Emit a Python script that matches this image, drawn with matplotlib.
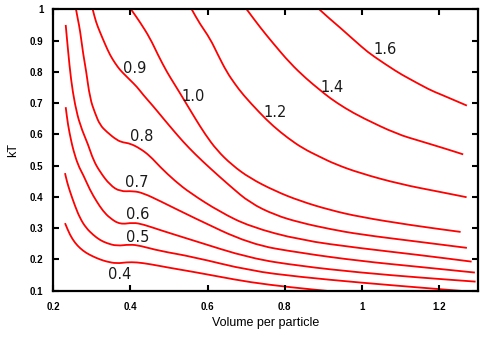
import matplotlib
matplotlib.use("Agg")
import matplotlib.pyplot as plt
from matplotlib.path import Path
from matplotlib.patches import PathPatch

# Pressure levels of the isobars
levels = [0.4, 0.5, 0.6, 0.7, 0.8, 0.9, 1.0, 1.2, 1.4, 1.6]
level_labels = ["0.4", "0.5", "0.6", "0.7", "0.8", "0.9", "1.0", "1.2", "1.4", "1.6"]

# Volume per particle / kT points
v_04 = [0.2306, 0.2435, 0.2565, 0.2694, 0.285, 0.3039, 0.3212, 0.3386, 0.3645, 0.3904, 0.4163, 0.4508, 0.5026, 0.5596, 0.63, 0.7098, 0.8135, 0.93]
t_04 = [0.316, 0.278, 0.253, 0.236, 0.221, 0.209, 0.200, 0.193, 0.187, 0.191, 0.191, 0.185, 0.173, 0.161, 0.145, 0.127, 0.111, 0.097]

v_05 = [0.2306, 0.2358, 0.2435, 0.2565, 0.2694, 0.285, 0.3039, 0.3212, 0.3386, 0.3645, 0.399, 0.4249, 0.4767, 0.5596, 0.7098, 0.8394, 0.9948, 1.1502, 1.262]
t_05 = [0.476, 0.448, 0.417, 0.371, 0.332, 0.301, 0.278, 0.262, 0.252, 0.243, 0.248, 0.244, 0.227, 0.209, 0.164, 0.144, 0.126, 0.110, 0.099]

v_06 = [0.2324, 0.2383, 0.2461, 0.2521, 0.2642, 0.278, 0.2953, 0.3127, 0.329, 0.3471, 0.3731, 0.4075, 0.4334, 0.4767, 0.5596, 0.7098, 0.8394, 0.9948, 1.1502, 1.2945]
t_06 = [0.687, 0.630, 0.582, 0.550, 0.502, 0.470, 0.422, 0.385, 0.355, 0.332, 0.312, 0.318, 0.312, 0.294, 0.262, 0.204, 0.179, 0.158, 0.142, 0.129]

v_07 = [0.2324, 0.2383, 0.2461, 0.2565, 0.2694, 0.2909, 0.3039, 0.3212, 0.3471, 0.3731, 0.4075, 0.4334, 0.4767, 0.5596, 0.7098, 0.8394, 0.9948, 1.1502, 1.2927]
t_07 = [0.950, 0.870, 0.774, 0.694, 0.630, 0.566, 0.518, 0.480, 0.438, 0.417, 0.419, 0.412, 0.387, 0.336, 0.249, 0.221, 0.195, 0.176, 0.158]

v_08 = [0.2591, 0.2642, 0.2694, 0.278, 0.285, 0.2953, 0.3083, 0.3212, 0.3386, 0.3645, 0.3808, 0.399, 0.4249, 0.4508, 0.4767, 0.5155, 0.5544, 0.6321, 0.7098, 0.8394, 0.9948, 1.1502, 1.2842]
t_08 = [1.0, 0.966, 0.934, 0.854, 0.806, 0.715, 0.668, 0.630, 0.608, 0.582, 0.574, 0.571, 0.555, 0.531, 0.496, 0.451, 0.413, 0.352, 0.305, 0.262, 0.236, 0.214, 0.193]

v_09 = [0.3023, 0.3109, 0.3212, 0.3342, 0.3471, 0.3601, 0.3731, 0.386, 0.399, 0.4171, 0.4334, 0.4585, 0.4852, 0.5104, 0.537, 0.5674, 0.6062, 0.658, 0.7098, 0.7746, 0.8394, 0.9171, 0.9948, 1.1502, 1.272]
t_09 = [1.0, 0.959, 0.927, 0.889, 0.854, 0.828, 0.806, 0.790, 0.774, 0.752, 0.726, 0.691, 0.651, 0.614, 0.576, 0.537, 0.492, 0.435, 0.381, 0.342, 0.318, 0.297, 0.280, 0.256, 0.237]

v_10 = [0.4016, 0.4249, 0.4508, 0.4715, 0.4948, 0.5155, 0.5363, 0.5674, 0.5933, 0.6236, 0.6632, 0.7098, 0.7746, 0.8394, 0.9171, 0.9948, 1.1243, 1.2557]
t_10 = [1.0, 0.959, 0.908, 0.854, 0.799, 0.758, 0.716, 0.652, 0.601, 0.550, 0.502, 0.460, 0.419, 0.387, 0.358, 0.336, 0.310, 0.288]

v_12 = [0.5588, 0.5803, 0.6062, 0.627, 0.6495, 0.671, 0.6925, 0.7357, 0.7694, 0.8083, 0.8472, 0.8912, 0.93, 0.9948, 1.0984, 1.2021, 1.2712]
t_12 = [1.0, 0.953, 0.907, 0.854, 0.800, 0.761, 0.726, 0.668, 0.627, 0.588, 0.555, 0.528, 0.505, 0.476, 0.441, 0.416, 0.399]

v_14 = [0.7013, 0.7357, 0.7694, 0.8135, 0.8567, 0.8912, 0.9171, 0.956, 1.0026, 1.0907, 1.1502, 1.2194, 1.2624]
t_14 = [1.0, 0.943, 0.892, 0.828, 0.777, 0.742, 0.716, 0.684, 0.652, 0.601, 0.579, 0.553, 0.536]

v_16 = [0.8894, 0.9171, 0.943, 1.0026, 1.0285, 1.0907, 1.1166, 1.1761, 1.2021, 1.272]
t_16 = [1.0, 0.969, 0.942, 0.876, 0.851, 0.800, 0.782, 0.742, 0.729, 0.692]

curves_v = [v_04, v_05, v_06, v_07, v_08, v_09, v_10, v_12, v_14, v_16]
curves_t = [t_04, t_05, t_06, t_07, t_08, t_09, t_10, t_12, t_14, t_16]

# label anchor positions (data coordinates)
label_v = [0.373, 0.420, 0.418, 0.416, 0.429, 0.412, 0.563, 0.775, 0.923, 1.060]
label_t = [0.153, 0.271, 0.345, 0.445, 0.593, 0.812, 0.720, 0.671, 0.751, 0.873]

x_ticks = [0.2, 0.4, 0.6, 0.8, 1.0, 1.2]
x_ticklabels = ["0.2", "0.4", "0.6", "0.8", "1", "1.2"]
y_ticks = [0.1, 0.2, 0.3, 0.4, 0.5, 0.6, 0.7, 0.8, 0.9, 1.0]
y_ticklabels = ["0.1", "0.2", "0.3", "0.4", "0.5", "0.6", "0.7", "0.8", "0.9", "1"]


def smooth_path(xs, ys):
    """Quadratic-Bezier path through the midpoints, controlled by the read points."""
    pts = list(zip(xs, ys))
    verts = [pts[0]]
    codes = [Path.MOVETO]
    mid = lambda a, b: ((a[0] + b[0]) / 2, (a[1] + b[1]) / 2)
    verts.append(mid(pts[0], pts[1]))
    codes.append(Path.LINETO)
    for i in range(1, len(pts) - 1):
        verts.append(pts[i])
        verts.append(mid(pts[i], pts[i + 1]))
        codes += [Path.CURVE3, Path.CURVE3]
    verts.append(pts[-1])
    codes.append(Path.LINETO)
    return Path(verts, codes)


fig = plt.figure(figsize=(4.85, 3.38), dpi=100)
ax = fig.add_axes([53.2 / 485, (338 - 290.7) / 338, (477.7 - 53.2) / 485, (290.7 - 9.3) / 338])

for vv, tt in zip(curves_v, curves_t):
    patch = PathPatch(smooth_path(vv, tt), facecolor="none", edgecolor="#ff0000",
                      lw=1.3, capstyle="butt", joinstyle="round")
    ax.add_patch(patch)

for lv, lt, txt in zip(label_v, label_t, level_labels):
    ax.text(lv, lt, txt, ha="center", va="center", fontsize=10.5,
            family="DejaVu Sans", color="#1a1a1a")

ax.set_xlim(0.2, 1.3)
ax.set_ylim(0.1, 1.0)
ax.set_xticks(x_ticks)
ax.set_xticklabels(x_ticklabels)
ax.set_yticks(y_ticks)
ax.set_yticklabels(y_ticklabels)
ax.tick_params(direction="in", length=4.3, width=1.5, top=True, right=True,
               labelsize=7)
ax.tick_params(axis="x", pad=8)
ax.tick_params(axis="y", pad=7)
for lab in ax.get_xticklabels() + ax.get_yticklabels():
    lab.set_family("Liberation Sans")
    lab.set_fontweight("bold")
for sp in ax.spines.values():
    sp.set_linewidth(1.6)

ax.set_xlabel("Volume per particle", fontsize=9, family="Liberation Sans", labelpad=4)
ax.set_ylabel("kT", fontsize=9, family="Liberation Sans", labelpad=8)

fig.savefig("out.png", dpi=100)
